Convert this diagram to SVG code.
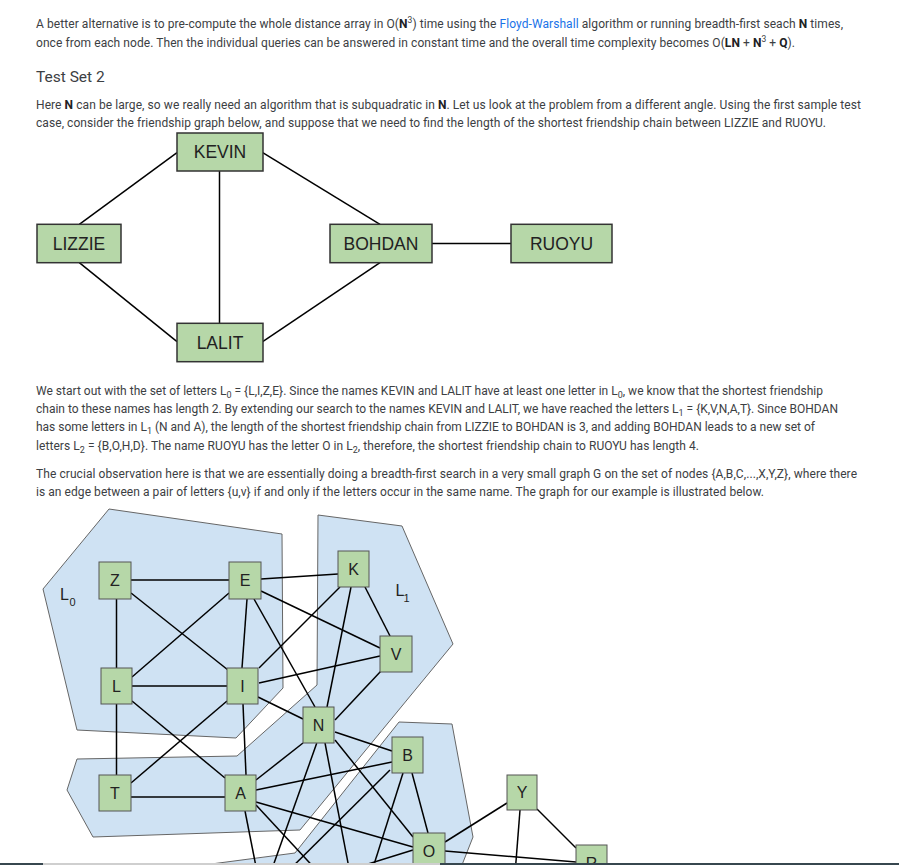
<svg xmlns="http://www.w3.org/2000/svg" width="899" height="865" viewBox="0 0 899 865">
<style>
.t{font-family:Roboto,"Liberation Sans",Arial,sans-serif;font-size:12px;fill:#3c4043}
.h{font-family:Roboto,"Liberation Sans",Arial,sans-serif;font-size:15.5px;fill:#3c4043}
.b{font-weight:bold;fill:#202124}
.a{fill:#1a73e8}
.s{font-size:9px}
.p{font-size:8.5px}
.box rect{fill:#b6d7a8;stroke:#333;stroke-width:1.5}
.box text{font-family:"Liberation Sans",Arial,sans-serif;font-size:17.5px;fill:#222;text-anchor:middle}
.nd rect{fill:#b6d7a8;stroke:#555;stroke-width:1}
.nd text{font-family:"Liberation Sans",Arial,sans-serif;font-size:16px;fill:#222;text-anchor:middle}
.e line{stroke:#000;stroke-width:1.5}
.zone{fill:#cfe2f3;stroke:#666;stroke-width:1}
.lab{font-family:"Liberation Sans",Arial,sans-serif;font-size:16px;fill:#222}
.lab .sb{font-size:11px}
</style>
<rect width="899" height="865" fill="#fff"/>

<g id="intro">
<text class="t" x="36" y="28" textLength="807" lengthAdjust="spacing">A better alternative is to pre-compute the whole distance array in O(<tspan class="b">N</tspan><tspan class="p" dy="-5">3</tspan><tspan dy="5">) time using the </tspan><tspan class="a">Floyd-Warshall</tspan> algorithm or running breadth-first seach <tspan class="b">N</tspan> times,</text>
<text class="t" x="36" y="47" textLength="759" lengthAdjust="spacing">once from each node. Then the individual queries can be answered in constant time and the overall time complexity becomes O(<tspan class="b">LN</tspan> + <tspan class="b">N</tspan><tspan class="p" dy="-5">3</tspan><tspan dy="5"> + </tspan><tspan class="b">Q</tspan>).</text>
<text class="h" x="36" y="82">Test Set 2</text>
<text class="t" x="36" y="109" textLength="825" lengthAdjust="spacing">Here <tspan class="b">N</tspan> can be large, so we really need an algorithm that is subquadratic in <tspan class="b">N</tspan>. Let us look at the problem from a different angle. Using the first sample test</text>
<text class="t" x="36" y="126.7" textLength="790" lengthAdjust="spacing">case, consider the friendship graph below, and suppose that we need to find the length of the shortest friendship chain between LIZZIE and RUOYU.</text>
</g>

<g id="friend-edges" class="e">
<line x1="177" y1="152.7" x2="79.3" y2="224.3"/>
<line x1="79.3" y1="262.7" x2="177" y2="341.7"/>
<line x1="219.5" y1="170.7" x2="219.5" y2="323.3"/>
<line x1="262.7" y1="152.7" x2="380" y2="224.3"/>
<line x1="262.7" y1="341.7" x2="380" y2="262.7"/>
<line x1="432" y1="243.5" x2="511" y2="243.5"/>
</g>
<g id="n-kevin" class="box"><rect x="177" y="133" width="86" height="38"/><text x="220" y="158.2">KEVIN</text></g>
<g id="n-lizzie" class="box"><rect x="37" y="224.3" width="84" height="38.4"/><text x="79" y="249.7">LIZZIE</text></g>
<g id="n-lalit" class="box"><rect x="177" y="323.3" width="86" height="38.4"/><text x="220" y="348.7">LALIT</text></g>
<g id="n-bohdan" class="box"><rect x="330" y="224.3" width="102" height="38.4"/><text x="381" y="249.7">BOHDAN</text></g>
<g id="n-ruoyu" class="box"><rect x="511" y="224.3" width="101" height="38.4"/><text x="561.5" y="249.7">RUOYU</text></g>

<g id="para2">
<text class="t" x="36" y="394.7" textLength="787" lengthAdjust="spacing">We start out with the set of letters L<tspan class="s" dy="3">0</tspan><tspan dy="-3"> = {L,I,Z,E}. Since the names KEVIN and LALIT have at least one letter in L</tspan><tspan class="s" dy="3">0</tspan><tspan dy="-3">, we know that the shortest friendship</tspan></text>
<text class="t" x="36" y="413" textLength="802" lengthAdjust="spacing">chain to these names has length 2. By extending our search to the names KEVIN and LALIT, we have reached the letters L<tspan class="s" dy="3">1</tspan><tspan dy="-3"> = {K,V,N,A,T}. Since BOHDAN</tspan></text>
<text class="t" x="36" y="431.3" textLength="779" lengthAdjust="spacing">has some letters in L<tspan class="s" dy="3">1</tspan><tspan dy="-3"> (N and A), the length of the shortest friendship chain from LIZZIE to BOHDAN is 3, and adding BOHDAN leads to a new set of</tspan></text>
<text class="t" x="36" y="449.7" textLength="663" lengthAdjust="spacing">letters L<tspan class="s" dy="3">2</tspan><tspan dy="-3"> = {B,O,H,D}. The name RUOYU has the letter O in L</tspan><tspan class="s" dy="3">2</tspan><tspan dy="-3">, therefore, the shortest friendship chain to RUOYU has length 4.</tspan></text>
<text class="t" x="36" y="478.3" textLength="821" lengthAdjust="spacing">The crucial observation here is that we are essentially doing a breadth-first search in a very small graph G on the set of nodes {A,B,C,...,X,Y,Z}, where there</text>
<text class="t" x="36" y="496.3" textLength="728" lengthAdjust="spacing">is an edge between a pair of letters {u,v} if and only if the letters occur in the same name. The graph for our example is illustrated below.</text>
</g>

<g id="zones">
<polygon id="zone-L0" class="zone" points="109,509 282,534 283,688 236,738 77,730 43,589"/>
<polygon id="zone-L1" class="zone" points="318,515 402,526 453,644 300,830 93,837 67,790 77,759 237,756 317,685"/>
<polygon id="zone-L2" class="zone" points="399,722 452,724 473,837 460,870 196,870 196,866 295,853"/>
<text class="lab" x="60" y="600">L<tspan class="sb" dx="0.5" dy="6">0</tspan></text>
<text class="lab" x="395.5" y="596">L<tspan class="sb" dx="-1" dy="6">1</tspan></text>
</g>

<g id="letter-edges" class="e">
<line x1="131" y1="580" x2="229" y2="580"/>
<line x1="116.5" y1="599" x2="116.5" y2="668"/>
<line x1="131" y1="593" x2="228" y2="670"/>
<line x1="229" y1="593" x2="132" y2="677"/>
<line x1="247" y1="599" x2="242" y2="668"/>
<line x1="261" y1="579" x2="338" y2="574"/>
<line x1="261" y1="591" x2="380" y2="648"/>
<line x1="254" y1="599" x2="315" y2="707"/>
<line x1="340" y1="587" x2="259" y2="668"/>
<line x1="351" y1="587" x2="327" y2="707"/>
<line x1="365" y1="587" x2="390" y2="636"/>
<line x1="380" y1="656" x2="259" y2="683"/>
<line x1="381" y1="671" x2="335" y2="720"/>
<line x1="258" y1="697" x2="303" y2="719"/>
<line x1="132" y1="686" x2="227" y2="686"/>
<line x1="116.5" y1="704" x2="116.5" y2="775"/>
<line x1="132" y1="701" x2="225" y2="778"/>
<line x1="227" y1="701" x2="131" y2="783"/>
<line x1="243" y1="704" x2="246" y2="775"/>
<line x1="131" y1="797" x2="225" y2="797"/>
<line x1="256" y1="780" x2="303" y2="743"/>
<line x1="256" y1="790" x2="392" y2="762"/>
<line x1="256" y1="802" x2="413" y2="847"/>
<line x1="335" y1="732" x2="392" y2="751"/>
<line x1="335" y1="740" x2="413" y2="837"/>
<line x1="412" y1="773" x2="428" y2="833"/>
<line x1="445" y1="842" x2="507" y2="803"/>
<line x1="445" y1="851" x2="576" y2="862"/>
<line x1="537" y1="809" x2="576" y2="848"/>
<line x1="520" y1="810" x2="513" y2="900"/>
<line x1="245" y1="811" x2="262" y2="897"/>
<line x1="316.7" y1="743.3" x2="262" y2="897"/>
<line x1="390" y1="770" x2="262" y2="897"/>
<line x1="413" y1="850" x2="262" y2="897"/>
<line x1="256" y1="805" x2="358" y2="915"/>
<line x1="325" y1="743" x2="358" y2="915"/>
<line x1="403" y1="773" x2="358" y2="915"/>
<line x1="418" y1="869" x2="358" y2="915"/>
</g>

<g id="node-Z" class="nd"><rect x="99" y="562" width="32" height="37"/><text x="115" y="586.2">Z</text></g>
<g id="node-E" class="nd"><rect x="229" y="562" width="32" height="37"/><text x="245" y="586.2">E</text></g>
<g id="node-K" class="nd"><rect x="338" y="551" width="31" height="36"/><text x="353.5" y="574.7">K</text></g>
<g id="node-V" class="nd"><rect x="380" y="636" width="32" height="36"/><text x="396" y="659.7">V</text></g>
<g id="node-L" class="nd"><rect x="101" y="668" width="31" height="36"/><text x="116.5" y="691.7">L</text></g>
<g id="node-I" class="nd"><rect x="227" y="668" width="31" height="36"/><text x="242.5" y="691.7">I</text></g>
<g id="node-N" class="nd"><rect x="303" y="707" width="31" height="36"/><text x="318.5" y="730.7">N</text></g>
<g id="node-B" class="nd"><rect x="392" y="737" width="31" height="36"/><text x="407.5" y="760.7">B</text></g>
<g id="node-T" class="nd"><rect x="99" y="775" width="32" height="36"/><text x="115" y="798.7">T</text></g>
<g id="node-A" class="nd"><rect x="225" y="775" width="31" height="36"/><text x="240.5" y="798.7">A</text></g>
<g id="node-Y" class="nd"><rect x="507" y="775" width="30" height="35"/><text x="522" y="798.2">Y</text></g>
<g id="node-O" class="nd"><rect x="413" y="833" width="32" height="36"/><text x="429" y="856.7">O</text></g>
<g id="node-R" class="nd"><rect x="576" y="845" width="31" height="36"/><text x="591.5" y="868.7">R</text></g>

<g id="bottom-bar">
<rect x="0" y="863" width="43" height="2" fill="#37474f"/>
<rect x="43" y="863" width="397" height="2" fill="#cfcfcf"/>
<rect x="440" y="863" width="459" height="2" fill="#37474f"/>
</g>
</svg>
